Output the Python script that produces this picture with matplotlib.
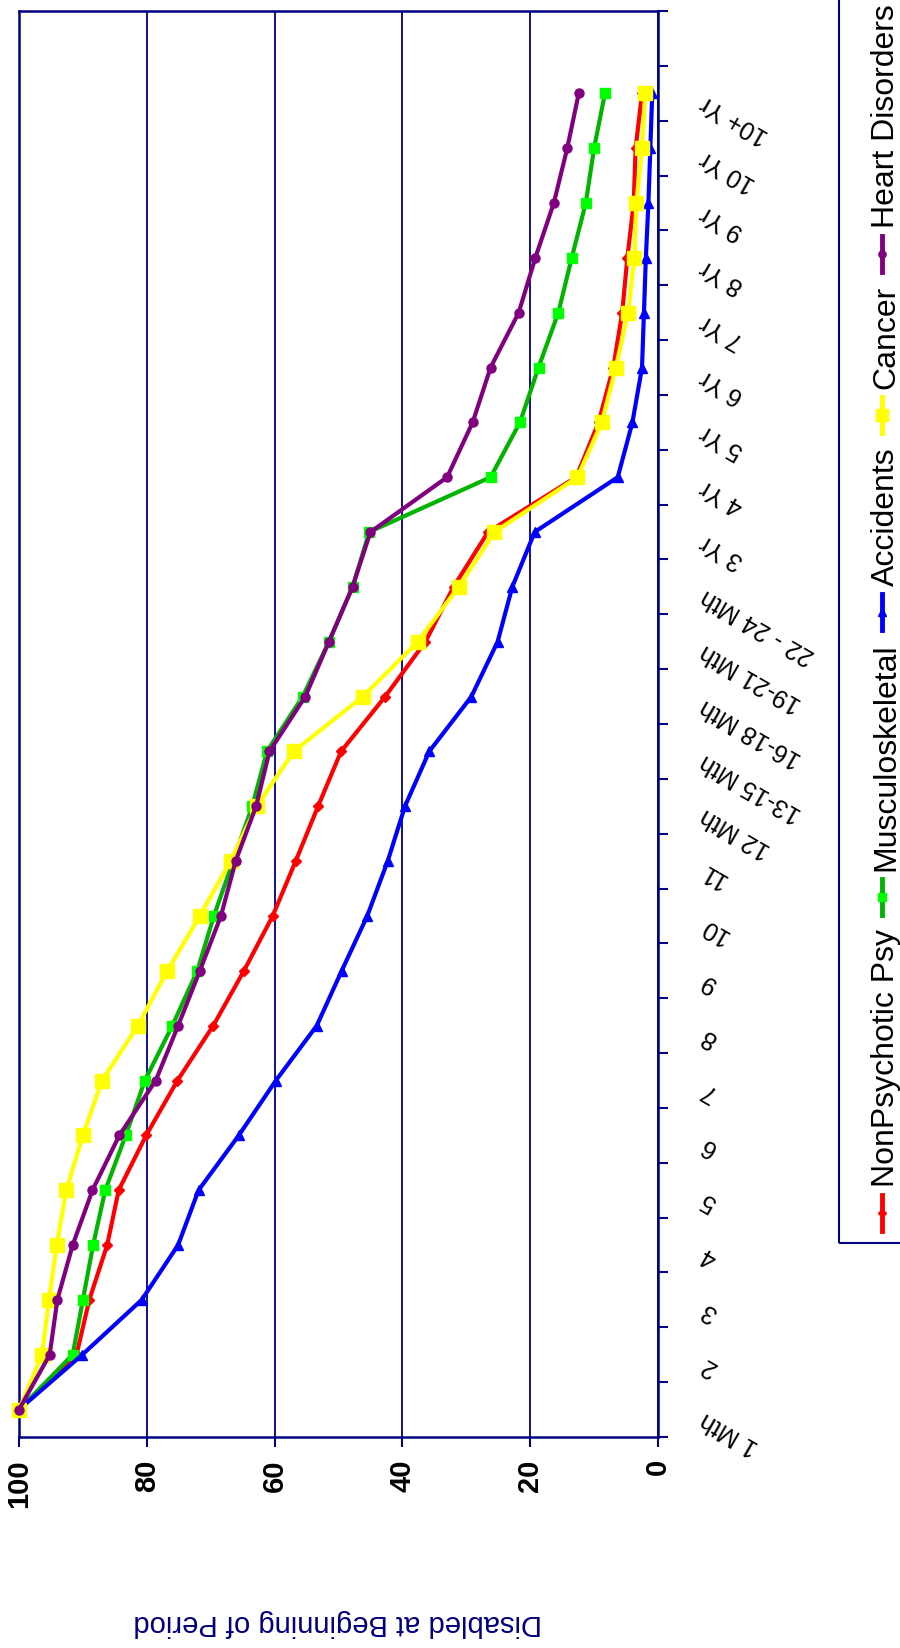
import matplotlib
matplotlib.use('Agg')
import matplotlib.pyplot as plt
from matplotlib.lines import Line2D
from matplotlib.patches import Rectangle
from matplotlib.transforms import ScaledTranslation
import numpy as np

plt.rcParams['font.family'] = ['Liberation Sans', 'DejaVu Sans']

# ---------------- data ----------------
categories = ['1 Mth', '2', '3', '4', '5', '6', '7', '8', '9', '10', '11',
              '12 Mth', '13-15 Mth', '16-18 Mth', '19-21 Mth', '22 - 24 Mth',
              '3 Yr', '4 Yr', '5 Yr', '6 Yr', '7 Yr', '8 Yr', '9 Yr', '10 Yr', '10+ Yr']

nonpsychotic = [100, 91.0, 89.0, 86.2, 84.4, 80.1, 75.2, 69.6, 64.8, 60.3, 56.7,
                53.2, 49.6, 42.7, 36.4, 32.0, 26.6, 12.8, 9.3, 7.0, 5.6, 4.8, 3.8, 3.5, 2.5]
musculoskeletal = [100, 91.6, 90.0, 88.4, 86.5, 83.3, 80.3, 76.0, 72.1, 69.5, 66.5,
                   63.5, 61.2, 55.6, 51.5, 47.8, 45.2, 26.2, 21.6, 18.7, 15.6, 13.5, 11.3, 10.0, 8.3]
accidents = [100, 90.1, 80.8, 75.1, 71.9, 65.6, 59.8, 53.4, 49.5, 45.5, 42.3,
             39.6, 35.8, 29.2, 25.1, 22.8, 19.3, 6.3, 4.0, 2.5, 2.2, 1.9, 1.5, 1.2, 0.9]
cancer = [100, 96.4, 95.3, 94.1, 92.6, 90.0, 87.0, 81.4, 76.8, 71.7, 66.9,
          62.8, 57.0, 46.2, 37.6, 31.2, 25.6, 12.6, 8.8, 6.6, 4.7, 3.7, 3.4, 2.5, 2.0]
heart = [100, 95.2, 94.0, 91.6, 88.5, 84.3, 78.6, 75.1, 71.7, 68.4, 66.1,
         62.9, 60.8, 55.2, 51.5, 47.8, 45.0, 33.0, 29.0, 26.2, 21.8, 19.2, 16.3, 14.2, 12.4]

series_names = ['NonPsychotic Psy', 'Musculoskeletal', 'Accidents', 'Cancer', 'Heart Disorders']
value_ticks = [0, 20, 40, 60, 80, 100]
axis_label = 'Disabled at Beginning of Period'

# ---------------- layout / style ----------------
W, H = 900, 1648
NAVY = '#000080'
fig = plt.figure(figsize=(W / 100, H / 100), dpi=100)
fig.patch.set_facecolor('white')

L, R, T, B = 19, 658, 11, 1437
ax = fig.add_axes([L / W, 1 - B / H, (R - L) / W, (B - T) / H])

styles = [
    dict(color='#FF0000', marker='D', ms=5, mfc='#FF0000'),
    dict(color='#00B400', marker='s', ms=6.5, mfc='#00FF00'),
    dict(color='#0000FF', marker='^', ms=7, mfc='#0000FF'),
    dict(color='#FFFF00', marker='s', ms=10, mfc='#FFFF00'),
    dict(color='#800080', marker='o', ms=6.5, mfc='#800080'),
]
all_series = [nonpsychotic, musculoskeletal, accidents, cancer, heart]
pos = np.arange(len(categories))

for vals, name, st in zip(all_series, series_names, styles):
    ax.plot(vals, pos, color=st['color'], lw=3, marker=st['marker'], ms=st['ms'],
            mfc=st['mfc'], mec=st['mfc'], zorder=3, label=name, clip_on=False)

ax.set_xlim(100, 0)
ax.set_ylim(-0.5, len(categories) + 0.5)

# value axis (drawn at bottom)
ax.set_xticks(value_ticks, labels=[str(v) for v in value_ticks])
ax.tick_params(axis='x', colors=NAVY, length=7, width=1.5, direction='out', pad=9,
               labelcolor='black', labelsize=21, labelrotation=90)
for t in ax.get_xticklabels():
    t.set_fontweight('bold')
ax.grid(axis='x', color=NAVY, lw=1.3)
ax.set_axisbelow(True)

# category axis (drawn at right)
ax.yaxis.tick_right()
ax.set_yticks(pos, labels=categories)
ax.set_yticks(np.arange(-0.5, len(categories) + 1), minor=True)
ax.tick_params(axis='y', which='major', length=0, pad=32, labelsize=18)
ax.tick_params(axis='y', which='minor', length=7, width=1.5, color=NAVY,
               right=True, left=False)
off = ScaledTranslation(0, -8 / 100, fig.dpi_scale_trans)
for t in ax.get_yticklabels():
    t.set_rotation(150)
    t.set_rotation_mode('anchor')
    t.set_ha('right')
    t.set_va('center')
    t.set_transform(t.get_transform() + off)

for s in ax.spines.values():
    s.set_color(NAVY)
    s.set_linewidth(1.8)

fig.text(338 / W, 1 - 1623 / H, axis_label, rotation=180, ha='center', va='center',
         color=NAVY, fontsize=21)

# ---------------- legend (rotated, manual) ----------------
renderer = fig.canvas.get_renderer()
ytop = 4
lx_text = 886
lx_mark = 882
mark_len = 36
last_end = 0
for name, st in reversed(list(zip(series_names, styles))):
    t = fig.text(lx_text / W, 1 - ytop / H, name, rotation=90, ha='center', va='top',
                 fontsize=23, color='black')
    bb = t.get_window_extent(renderer)
    length = bb.height
    y0 = ytop + length + 8
    y1 = y0 + mark_len
    fig.add_artist(Line2D([lx_mark / W, lx_mark / W], [1 - y0 / H, 1 - y1 / H],
                          transform=fig.transFigure, color=st['color'], lw=3.5))
    fig.add_artist(Line2D([lx_mark / W], [1 - (y0 + y1) / 2 / H], transform=fig.transFigure,
                          marker=st['marker'], ms=st['ms'] * 0.8, color=st['mfc'],
                          mec=st['mfc'], lw=0))
    ytop = y1 + 14
    last_end = y1

box_bottom = last_end + 12
fig.add_artist(Rectangle((839 / W, 1 - box_bottom / H), 90 / W, (box_bottom + 20) / H,
                         transform=fig.transFigure, fill=False, ec=NAVY, lw=1.5))

fig.savefig('out.png', dpi=100, facecolor='white')
